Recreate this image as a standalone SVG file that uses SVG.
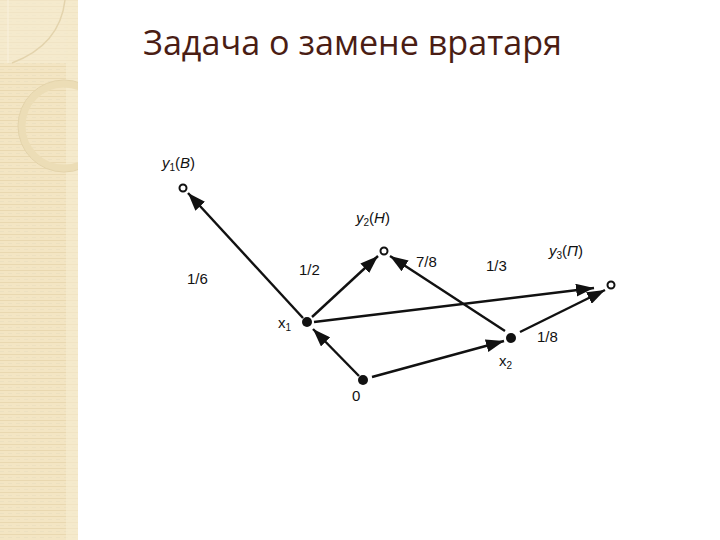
<svg xmlns="http://www.w3.org/2000/svg" width="720" height="540" viewBox="0 0 720 540">
<defs>
<pattern id="stripes" width="8" height="6" patternUnits="userSpaceOnUse">
<rect width="8" height="6" fill="#f3e5c3"/>
<rect y="0" width="8" height="1" fill="#e9d8b0"/>
<rect y="3" width="4" height="1" fill="#ece0c0"/>
</pattern>
<marker id="arr" viewBox="0 0 18 13" refX="18" refY="6.5" markerWidth="18" markerHeight="13" markerUnits="userSpaceOnUse" orient="auto">
<path d="M0,0 L18,6.5 L0,13 Z" fill="#111"/>
</marker>
<clipPath id="strip"><rect x="0" y="0" width="78" height="540"/></clipPath>
</defs>
<style>
.edge{stroke:#111;stroke-width:2.4;fill:none;marker-end:url(#arr)}
.lbl{font-family:"Liberation Sans",Arial,sans-serif;font-size:15px;fill:#111}
.sub{font-size:10px}
.it{font-style:italic}
.open{fill:#fff;stroke:#111;stroke-width:2}
.full{fill:#111}
</style>
<rect width="720" height="540" fill="#fff"/>
<g id="sidebar" clip-path="url(#strip)">
<rect x="0" y="0" width="78" height="540" fill="url(#stripes)"/>
<rect x="66" y="0" width="12" height="540" fill="#f6ecd2" opacity="0.6"/>
<rect x="0" y="0" width="66" height="63" fill="#f7ecd3" opacity="0.6"/>
<path d="M65,0 Q60,45 12,63" stroke="#e3d3ac" stroke-width="1.5" fill="none"/>
<path d="M8,63 L8,0" stroke="#f9f1de" stroke-width="1" fill="none"/>
<circle cx="64" cy="126" r="42" stroke="#ecddb6" stroke-width="7" fill="none"/>
<circle cx="64" cy="126" r="46" stroke="#e3d3aa" stroke-width="1" fill="none"/>
</g>
<text id="title" x="143" y="55" font-family="'Open Sans','Noto Sans',sans-serif" font-size="34" fill="#4a1d14" textLength="419" lengthAdjust="spacingAndGlyphs">Задача о замене вратаря</text>
<g id="connectors">
<line class="edge" x1="303" y1="318" x2="188" y2="193"/>
<line class="edge" x1="312" y1="317" x2="378" y2="256"/>
<line class="edge" x1="314" y1="322" x2="594" y2="288"/>
<line class="edge" x1="520" y1="332" x2="605" y2="290"/>
<line class="edge" x1="505" y1="331" x2="390" y2="256"/>
<line class="edge" x1="359" y1="376" x2="313" y2="329"/>
<line class="edge" x1="372" y1="377" x2="504" y2="341"/>
</g>
<g id="y1"><circle class="open" cx="183" cy="188" r="3.5"/>
<text class="lbl" x="162" y="168"><tspan class="it">y</tspan><tspan class="sub" dy="3">1</tspan><tspan dy="-3">(</tspan><tspan class="it">B</tspan>)</text></g>
<g id="y2"><circle class="open" cx="384" cy="251" r="3.5"/>
<text class="lbl" x="356" y="223"><tspan class="it">y</tspan><tspan class="sub" dy="3">2</tspan><tspan dy="-3">(</tspan><tspan class="it">H</tspan>)</text></g>
<g id="y3"><circle class="open" cx="611" cy="285" r="3.5"/>
<text class="lbl" x="549" y="256"><tspan class="it">y</tspan><tspan class="sub" dy="3">3</tspan><tspan dy="-3">(</tspan><tspan class="it">П</tspan>)</text></g>
<g id="x1"><circle class="full" cx="307" cy="322" r="5"/>
<text class="lbl" x="278" y="328">x<tspan class="sub" dy="3">1</tspan></text></g>
<g id="x2"><circle class="full" cx="511" cy="338" r="5"/>
<text class="lbl" x="499" y="366">x<tspan class="sub" dy="3">2</tspan></text></g>
<g id="n0"><circle class="full" cx="363" cy="380" r="5"/>
<text class="lbl" x="352" y="401">0</text></g>
<g id="weights">
<text class="lbl" x="187" y="284">1/6</text>
<text class="lbl" x="299" y="275">1/2</text>
<text class="lbl" x="416" y="267">7/8</text>
<text class="lbl" x="486" y="271">1/3</text>
<text class="lbl" x="537" y="342">1/8</text>
</g>
</svg>
